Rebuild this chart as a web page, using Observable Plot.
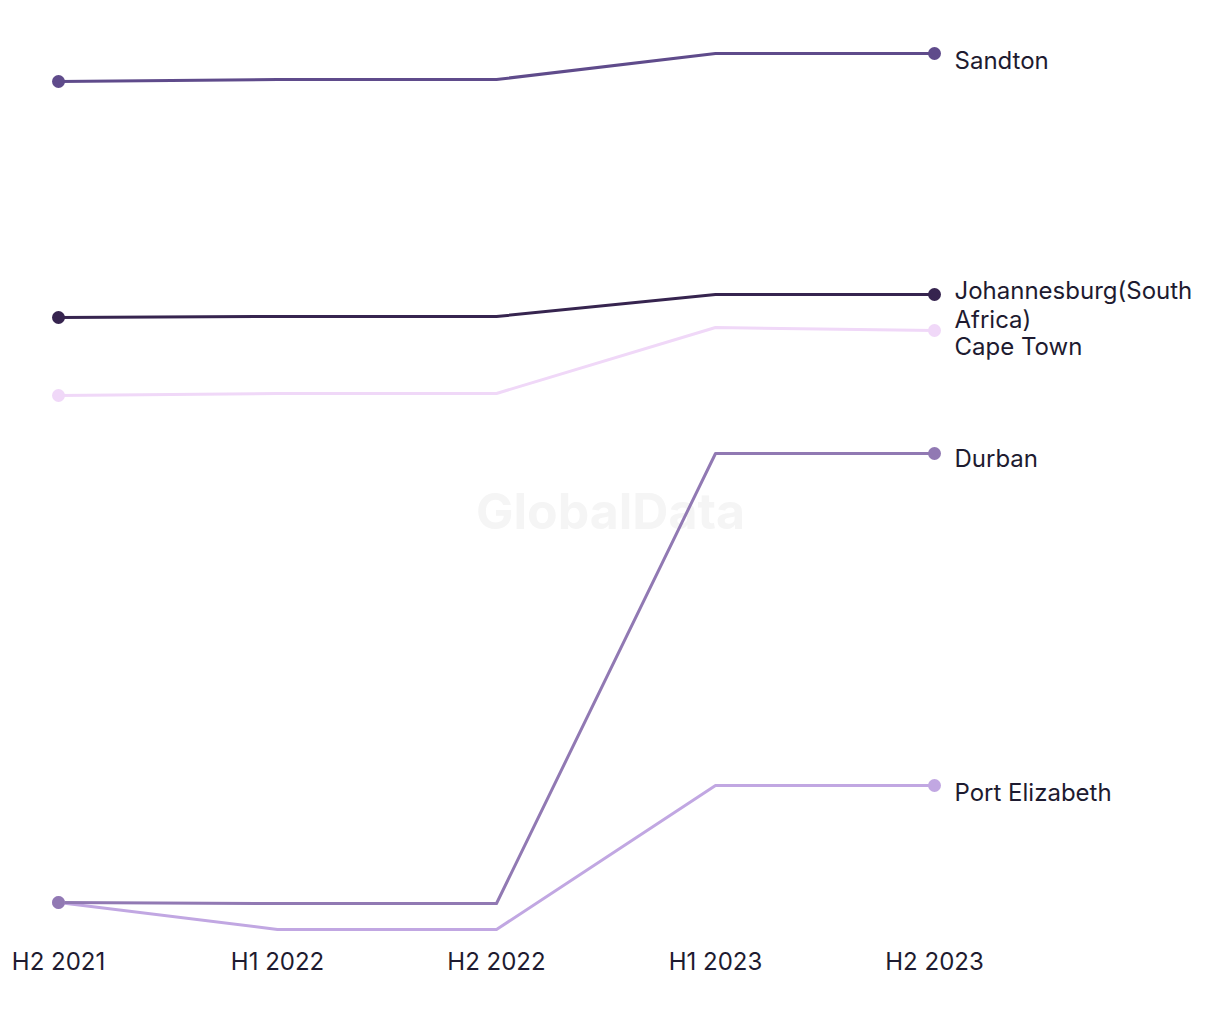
<!DOCTYPE html>
<html>
<head>
<meta charset="utf-8">
<script src="https://cdn.jsdelivr.net/npm/d3@7"></script>
<script src="https://cdn.jsdelivr.net/npm/@observablehq/plot@0.6"></script>
<style>
  html, body { margin: 0; padding: 0; background: #ffffff; }
  #chart { width: 1220px; height: 1020px; }
</style>
</head>
<body>
<div id="chart"></div>
<script>
// Periods (x categories)
const periods = ["H2 2021", "H1 2022", "H2 2022", "H1 2023", "H2 2023"];

// Series (index values)
const cities = ["Port Elizabeth", "Durban", "Cape Town", "Johannesburg(South Africa)", "Sandton"];
const labelText = ["Port Elizabeth", "Durban", "Cape Town", "Johannesburg(South\nAfrica)", "Sandton"];
const portElizabeth = [27, 0, 0, 144, 144];
const durban = [27, 26, 26, 476, 476];
const capeTown = [534, 536, 536, 602, 599];
const johannesburg = [612, 613, 613, 635, 635];
const sandton = [848, 850, 850, 876, 876];
const colors = ["#c1a7e2", "#9179b3", "#f0d8f8", "#36244f", "#5f4b8b"];

const seriesValues = [portElizabeth, durban, capeTown, johannesburg, sandton];

const data = [];
cities.forEach((c, i) => {
  periods.forEach((p, j) => data.push({city: c, period: p, value: seriesValues[i][j]}));
});
const last = cities.map((c, i) => ({city: c, label: labelText[i], period: periods[periods.length - 1], value: seriesValues[i][periods.length - 1]}));

const shifted = {"Johannesburg(South Africa)": 10, "Cape Town": 15, "Durban": 4};
const labelMarks = [];
const groups = d3.group(last, d => shifted[d.city] ?? 6);
for (const [dy, rows] of groups) {
  labelMarks.push(Plot.text(rows, {
    x: "period", y: "value", text: "label",
    textAnchor: "start", dx: 20, dy,
    fontSize: 24, fill: "#1e1b30", lineHeight: 1.2
  }));
}

const chart = Plot.plot({
  width: 1220,
  height: 1020,
  marginLeft: 58,
  marginRight: 286,
  marginTop: 53,
  marginBottom: 91,
  style: {fontFamily: "Inter, 'Noto Sans', sans-serif", background: "#ffffff"},
  x: {type: "point", domain: periods, padding: 0, label: null},
  y: {domain: [0, 876], axis: null},
  color: {domain: cities, range: colors},
  marks: [
    Plot.text(["GlobalData"], {frameAnchor: "middle", dx: 114, dy: 21, fontSize: 50, fontWeight: "bold", fill: "#f5f5f5"}),
    Plot.axisX({tickSize: 0, tickPadding: 23, fontSize: 24, fill: "#1e1b30", label: null}),
    Plot.line(data, {x: "period", y: "value", z: "city", stroke: "city", strokeWidth: 3}),
    Plot.dot(data.filter(d => d.period === periods[0] || d.period === periods[periods.length - 1]), {x: "period", y: "value", fill: "city", r: 6.5}),
    ...labelMarks
  ]
});

document.getElementById("chart").append(chart);
</script>
</body>
</html>
